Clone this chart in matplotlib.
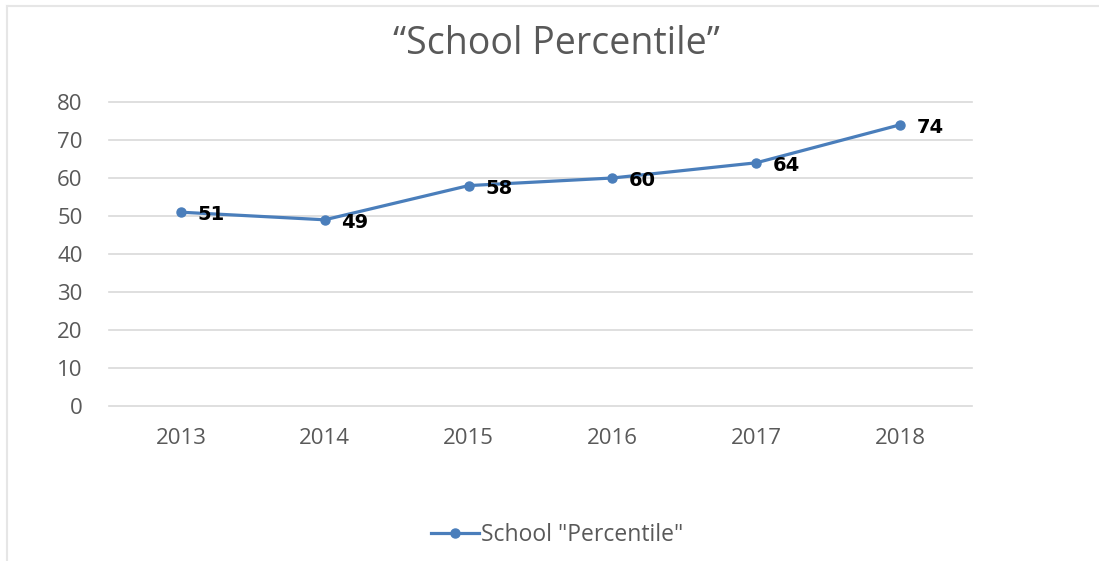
import matplotlib
matplotlib.use("Agg")
import matplotlib.pyplot as plt
from matplotlib.lines import Line2D

years = ["2013", "2014", "2015", "2016", "2017", "2018"]
percentile = [51, 49, 58, 60, 64, 74]
y_ticks = [0, 10, 20, 30, 40, 50, 60, 70, 80]

plt.rcParams['font.family'] = ['Open Sans', 'DejaVu Sans']

line_color = '#4A7EBB'
text_gray = '#595959'

fig = plt.figure(figsize=(10.99, 5.61), dpi=100)
ax = fig.add_axes([109 / 1099, 1 - 406 / 561, (972 - 109) / 1099, (406 - 102) / 561])

x = list(range(len(years)))
ax.plot(x, percentile, color=line_color, lw=2.3, marker='o', markersize=6.5,
        label='School "Percentile"')

for xi, v in zip(x, percentile):
    ax.annotate(str(v), (xi, v), xytext=(12, -2), textcoords='offset points',
                ha='left', va='center', fontsize=14, fontweight='bold', color='black',
                family='DejaVu Sans')

ax.set_xlim(-0.5, len(years) - 0.5)
ax.set_ylim(0, 80)
ax.set_yticks(y_ticks)
ax.set_xticks(x)
ax.set_xticklabels(years)
ax.tick_params(axis='both', length=0, labelsize=16, colors=text_gray)
ax.tick_params(axis='y', pad=19)
ax.tick_params(axis='x', pad=16)
ax.grid(axis='y', color='#D9D9D9', lw=1.2)
for gl in ax.get_ygridlines():
    gl.set_clip_on(False)
ax.set_axisbelow(True)
for s in ax.spines.values():
    s.set_visible(False)

fig.text(556 / 1099, 1 - 44 / 561, '\u201cSchool Percentile\u201d', ha='center', va='center',
         fontsize=27, color=text_gray)

fig.legend(loc='center', bbox_to_anchor=(557 / 1099, 1 - 535 / 561), frameon=False,
           fontsize=16.5, labelcolor=text_gray, handlelength=2.1, handletextpad=0.05)

# faint chart border (top and left only visible)
fig.add_artist(Line2D([7 / 1099, 7 / 1099], [0, 1 - 6 / 561], color='#E6E6E6', lw=1.5))
fig.add_artist(Line2D([7 / 1099, 1], [1 - 6 / 561, 1 - 6 / 561], color='#E6E6E6', lw=1.5))

fig.savefig('out.png', dpi=100)
